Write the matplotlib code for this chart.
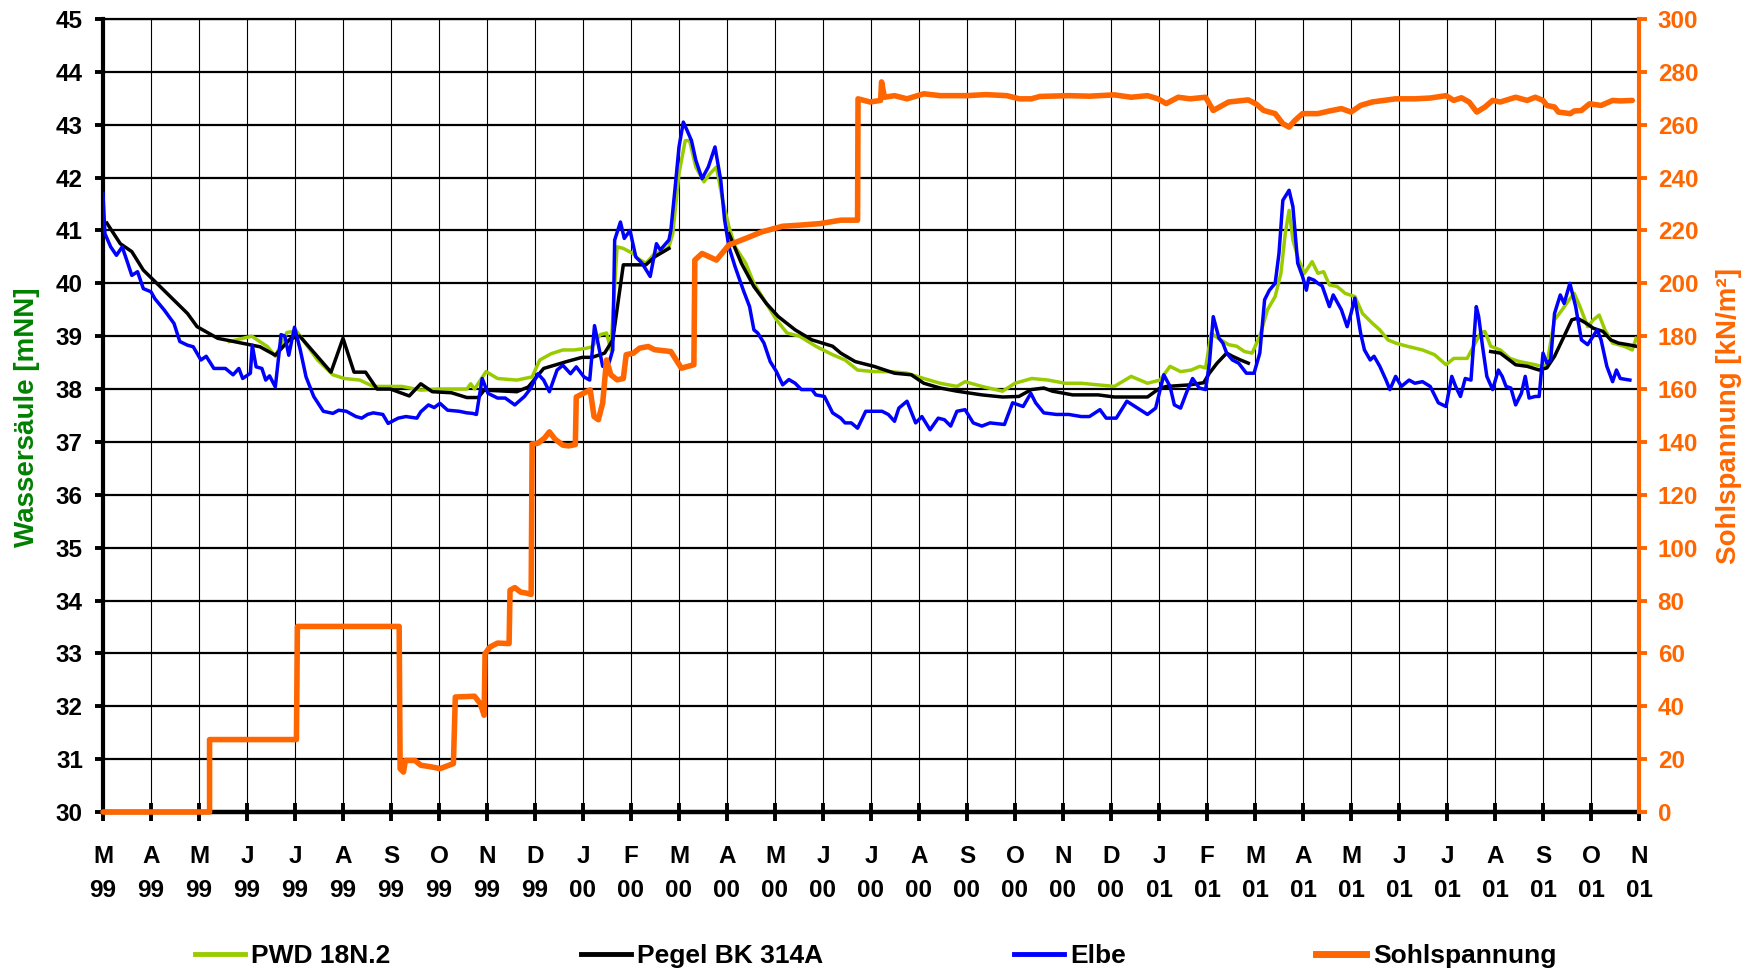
import matplotlib
matplotlib.use("Agg")
import matplotlib.pyplot as plt
import numpy as np
from matplotlib.lines import Line2D

plt.rcParams['font.family'] = ['Liberation Sans', 'DejaVu Sans']
plt.rcParams['font.weight'] = 'bold'

# ---------------- data (x = months since 1 March 1999) ----------------
month_letters = ["M", "A", "M", "J", "J", "A", "S", "O", "N", "D",
                 "J", "F", "M", "A", "M", "J", "J", "A", "S", "O", "N", "D",
                 "J", "F", "M", "A", "M", "J", "J", "A", "S", "O", "N"]
year_labels = ["99"] * 10 + ["00"] * 12 + ["01"] * 11

pwd_x = [2.63, 3.10, 3.43, 3.59, 3.83, 4.03, 4.23, 4.47, 4.79, 5.03, 5.35, 5.63, 6.23, 6.62,
         7.02, 7.58, 7.66, 7.74, 7.98, 8.22, 8.62, 8.94, 9.10, 9.34, 9.58, 9.82, 10.06, 10.19,
         10.36, 10.49, 10.58, 10.71, 10.84, 11.05, 11.14, 11.31, 11.49, 11.66, 11.79, 11.87,
         12.00, 12.13, 12.22, 12.35, 12.52, 12.65, 12.78, 12.91, 13.04, 13.17, 13.39, 13.56,
         13.82, 14.03, 14.25, 14.51, 14.85, 15.20, 15.46, 15.72, 16.06, 16.41, 16.75, 17.10,
         17.44, 17.79, 17.96, 18.31, 18.74, 19.00, 19.35, 19.69, 20.04, 20.38, 20.73, 21.07,
         21.42, 21.76, 22.02, 22.23, 22.45, 22.67, 22.85, 22.97, 23.09, 23.17, 23.29, 23.45,
         23.62, 23.78, 23.94, 24.10, 24.26, 24.42, 24.54, 24.63, 24.71, 24.79, 24.91, 25.03,
         25.19, 25.31, 25.43, 25.55, 25.71, 25.88, 26.08, 26.24, 26.44, 26.60, 26.77, 26.93,
         27.17, 27.49, 27.74, 27.98, 28.14, 28.42, 28.70, 28.79, 28.91, 29.11, 29.31, 29.51,
         29.84, 29.96, 30.08, 30.24, 30.40, 30.52, 30.65, 30.77, 30.93, 31.05, 31.17, 31.29,
         31.45, 31.69, 31.86, 31.94]
pwd_y = [38.90, 39.00, 38.80, 38.62, 39.07, 39.10, 38.85, 38.55, 38.27, 38.20, 38.17, 38.05, 38.05, 37.98,
         38.00, 38.00, 38.10, 38.00, 38.33, 38.20, 38.17, 38.23, 38.55, 38.67, 38.74, 38.74, 38.77, 38.80,
         39.03, 39.06, 38.74, 40.69, 40.66, 40.56, 40.47, 40.38, 40.56, 40.60, 40.69, 40.94,
         42.08, 42.70, 42.70, 42.20, 41.92, 42.08, 42.20, 41.57, 41.07, 40.69, 40.38, 40.00,
         39.62, 39.31, 39.06, 39.00, 38.81, 38.65, 38.55, 38.36, 38.33, 38.33, 38.30, 38.20,
         38.11, 38.05, 38.14, 38.05, 37.96, 38.11, 38.20, 38.17, 38.11, 38.11, 38.08, 38.05,
         38.24, 38.11, 38.17, 38.43, 38.33, 38.36, 38.43, 38.40, 39.06, 39.00, 38.93, 38.84,
         38.81, 38.71, 38.68, 39.00, 39.50, 39.75, 40.19, 40.94, 41.38, 40.82, 40.44, 40.19,
         40.41, 40.19, 40.22, 39.97, 39.94, 39.81, 39.75, 39.43, 39.25, 39.12, 38.93, 38.87,
         38.81, 38.74, 38.65, 38.46, 38.58, 38.58, 39.06, 39.09, 38.81, 38.74, 38.58, 38.52,
         38.46, 38.43, 38.46, 39.31, 39.50, 39.66, 39.81, 39.56, 39.18, 39.31, 39.40, 39.12,
         38.87, 38.81, 38.74, 38.96]

pegel_x = [0.08, 0.36, 0.60, 0.84, 1.20, 1.76, 1.96, 2.39, 3.27, 3.59, 3.90, 4.10, 4.75, 5.00,
           5.23, 5.47, 5.71, 5.99, 6.38, 6.62, 6.86, 7.26, 7.58, 7.82, 7.94, 8.62, 8.86, 9.18,
           9.66, 9.98, 10.19, 10.45, 10.62, 10.84, 11.31, 11.49, 11.79, 11.80,
           13.04, 13.30, 13.56, 13.82, 14.07, 14.42, 14.77, 15.20, 15.37, 15.67, 16.06, 16.49,
           16.84, 17.10, 17.44, 17.79, 18.31, 18.74, 19.08, 19.34, 19.60, 19.78, 20.20, 20.73,
           21.07, 21.76, 22.02, 22.16, 22.65, 22.93, 23.05, 23.21, 23.41, 23.53, 23.70, 23.86,
           23.87, 28.91, 29.11, 29.43, 29.67, 29.92, 30.08, 30.24, 30.44, 30.60, 30.72, 30.89,
           31.05, 31.25, 31.41, 31.57, 31.77, 31.94]
pegel_y = [41.14, 40.75, 40.60, 40.25, 39.93, 39.43, 39.18, 38.96, 38.80, 38.64, 38.95, 39.00, 38.32, 38.96,
           38.32, 38.32, 38.00, 38.00, 37.87, 38.10, 37.95, 37.93, 37.84, 37.84, 37.98, 37.95, 38.04, 38.39,
           38.52, 38.60, 38.60, 38.68, 38.93, 40.35, 40.35, 40.50, 40.66, np.nan,
           40.94, 40.38, 39.94, 39.62, 39.37, 39.12, 38.93, 38.81, 38.68, 38.52, 38.43, 38.30,
           38.27, 38.11, 38.02, 37.96, 37.89, 37.85, 37.86, 37.99, 38.02, 37.96, 37.89, 37.89,
           37.85, 37.85, 38.02, 38.05, 38.08, 38.12, 38.30, 38.49, 38.68, 38.62, 38.55, 38.49,
           np.nan, 38.71, 38.68, 38.46, 38.43, 38.36, 38.40, 38.62, 39.00, 39.31, 39.34, 39.25,
           39.15, 39.09, 38.93, 38.87, 38.84, 38.81]

elbe_x = [0.00, 0.04, 0.16, 0.28, 0.40, 0.52, 0.60, 0.72, 0.84, 1.00, 1.08, 1.28, 1.48, 1.60,
          1.76, 1.88, 2.04, 2.15, 2.31, 2.55, 2.71, 2.83, 2.91, 3.07, 3.11, 3.19, 3.31, 3.39,
          3.47, 3.59, 3.71, 3.79, 3.87, 3.99, 4.11, 4.23, 4.39, 4.59, 4.79, 4.91, 5.07, 5.27,
          5.39, 5.51, 5.63, 5.83, 5.94, 6.15, 6.31, 6.54, 6.62, 6.78, 6.90, 7.02, 7.18, 7.42,
          7.58, 7.70, 7.78, 7.90, 8.02, 8.22, 8.38, 8.58, 8.78, 8.90, 9.06, 9.18, 9.30, 9.46,
          9.58, 9.74, 9.86, 10.02, 10.14, 10.24, 10.34, 10.41, 10.54, 10.62, 10.66, 10.78,
          10.86, 10.98, 11.10, 11.23, 11.40, 11.53, 11.61, 11.79, 11.83, 11.92, 12.00, 12.09,
          12.17, 12.26, 12.35, 12.48, 12.61, 12.75, 12.87, 12.95, 13.04, 13.17, 13.34, 13.47,
          13.56, 13.64, 13.77, 13.90, 14.03, 14.16, 14.29, 14.42, 14.55, 14.77, 14.85, 15.03,
          15.20, 15.37, 15.46, 15.59, 15.72, 15.89, 16.06, 16.23, 16.36, 16.49, 16.58, 16.75,
          16.93, 17.06, 17.23, 17.40, 17.53, 17.66, 17.79, 17.96, 18.13, 18.31, 18.48, 18.78,
          18.95, 19.17, 19.33, 19.43, 19.60, 19.86, 20.12, 20.38, 20.55, 20.77, 20.90, 21.11,
          21.33, 21.76, 21.93, 22.10, 22.23, 22.32, 22.45, 22.58, 22.70, 22.84, 22.97, 23.05,
          23.13, 23.25, 23.33, 23.41, 23.53, 23.66, 23.82, 23.98, 24.10, 24.20, 24.30, 24.42,
          24.50, 24.58, 24.71, 24.79, 24.89, 24.99, 25.07, 25.12, 25.23, 25.31, 25.40, 25.55,
          25.63, 25.80, 25.92, 26.00, 26.08, 26.20, 26.28, 26.40, 26.48, 26.60, 26.73, 26.81,
          26.93, 27.05, 27.21, 27.33, 27.49, 27.65, 27.82, 27.98, 28.10, 28.18, 28.28, 28.38,
          28.50, 28.61, 28.66, 28.74, 28.83, 28.95, 29.07, 29.15, 29.23, 29.33, 29.43, 29.55,
          29.63, 29.71, 29.84, 29.92, 30.00, 30.08, 30.16, 30.24, 30.36, 30.44, 30.56, 30.68,
          30.80, 30.93, 31.13, 31.21, 31.33, 31.45, 31.53, 31.61, 31.81]
elbe_y = [41.70, 40.94, 40.69, 40.53, 40.69, 40.37, 40.15, 40.22, 39.90, 39.84, 39.71, 39.49, 39.24, 38.90,
          38.83, 38.80, 38.55, 38.62, 38.39, 38.39, 38.27, 38.39, 38.20, 38.30, 38.83, 38.42, 38.39, 38.17,
          38.25, 38.04, 39.03, 39.00, 38.64, 39.17, 38.74, 38.23, 37.86, 37.58, 37.54, 37.60, 37.58, 37.48,
          37.45, 37.52, 37.55, 37.52, 37.35, 37.45, 37.48, 37.45, 37.57, 37.70, 37.65, 37.73, 37.60, 37.58,
          37.55, 37.54, 37.52, 38.20, 37.92, 37.83, 37.83, 37.70, 37.86, 38.00, 38.29, 38.17, 37.95, 38.36,
          38.45, 38.29, 38.42, 38.23, 38.17, 39.20, 38.75, 38.43, 38.49, 38.74, 40.82, 41.16,
          40.85, 41.00, 40.50, 40.38, 40.13, 40.75, 40.63, 40.82, 41.00, 41.82, 42.58, 43.05,
          42.89, 42.70, 42.33, 41.98, 42.20, 42.58, 41.95, 41.20, 40.69, 40.31, 39.87, 39.56,
          39.12, 39.06, 38.87, 38.52, 38.33, 38.08, 38.18, 38.11, 37.99, 37.99, 37.89, 37.86,
          37.55, 37.45, 37.36, 37.36, 37.26, 37.58, 37.58, 37.58, 37.52, 37.39, 37.64, 37.77,
          37.36, 37.48, 37.23, 37.45, 37.42, 37.30, 37.58, 37.61, 37.36, 37.30, 37.36, 37.33,
          37.74, 37.67, 37.92, 37.74, 37.55, 37.52, 37.52, 37.48, 37.48, 37.61, 37.45, 37.45,
          37.77, 37.52, 37.64, 38.27, 38.05, 37.70, 37.64, 37.95, 38.20, 38.02, 37.99, 38.49,
          39.37, 38.96, 38.87, 38.68, 38.55, 38.49, 38.30, 38.30, 38.68, 39.69, 39.87, 40.00,
          40.57, 41.57, 41.76, 41.45, 40.38, 40.13, 39.87, 40.10, 40.06, 40.00, 39.95, 39.56,
          39.78, 39.50, 39.18, 39.43, 39.72, 39.06, 38.74, 38.55, 38.62, 38.43, 38.17, 37.99,
          38.24, 38.05, 38.17, 38.11, 38.14, 38.05, 37.74, 37.67, 38.24, 38.05, 37.86, 38.20,
          38.17, 39.56, 39.37, 38.81, 38.24, 37.99, 38.36, 38.24, 38.05, 38.02, 37.70, 37.92,
          38.24, 37.83, 37.86, 37.86, 38.68, 38.49, 38.55, 39.43, 39.78, 39.62, 40.00, 39.56,
          38.93, 38.84, 39.12, 38.93, 38.43, 38.14, 38.36, 38.20, 38.17]

sohl_x = [0.00, 2.22, 2.22, 4.03, 4.05, 6.17, 6.19, 6.26, 6.30, 6.50, 6.62, 6.86, 7.02, 7.18,
          7.30, 7.34, 7.74, 7.86, 7.94, 7.96, 8.06, 8.22, 8.46, 8.48, 8.58, 8.70, 8.82, 8.92,
          8.94, 9.06, 9.20, 9.30, 9.42, 9.58, 9.70, 9.84, 9.86, 10.02, 10.15, 10.23, 10.32,
          10.41, 10.49, 10.58, 10.71, 10.84, 10.90, 11.05, 11.18, 11.36, 11.49, 11.83, 12.05,
          12.31, 12.33, 12.48, 12.78, 13.04, 13.39, 13.73, 14.16, 14.51, 14.94, 15.37, 15.72,
          15.73, 15.98, 16.20, 16.22, 16.28, 16.49, 16.75, 17.10, 17.44, 18.00, 18.39, 18.83,
          19.09, 19.34, 19.52, 20.12, 20.55, 21.07, 21.42, 21.76, 21.98, 22.15, 22.40, 22.65,
          22.97, 23.13, 23.45, 23.86, 24.02, 24.18, 24.42, 24.58, 24.71, 24.83, 24.99, 25.31,
          25.55, 25.80, 26.00, 26.20, 26.44, 26.68, 26.93, 27.33, 27.65, 27.98, 28.14, 28.30,
          28.46, 28.62, 28.79, 28.95, 29.11, 29.43, 29.67, 29.84, 30.00, 30.08, 30.24, 30.32,
          30.57, 30.65, 30.80, 30.97, 31.21, 31.45, 31.61, 31.86]
sohl_y = [0.0, 0.0, 27.4, 27.4, 70.2, 70.2, 16.4, 15.1, 19.5, 19.5, 17.7, 17.0, 16.4, 17.5,
          18.3, 43.5, 43.8, 41.0, 36.6, 59.9, 62.4, 63.9, 63.7, 83.9, 84.9, 83.2, 82.8, 82.3,
          139.2, 139.5, 141.5, 143.8, 141.0, 138.8, 138.5, 139.0, 157.0, 158.5, 159.7, 149.6, 148.4,
          154.7, 171.0, 165.4, 163.5, 164.0, 173.0, 173.6, 175.5, 176.1, 174.9, 174.2, 167.9,
          169.2, 208.8, 211.3, 208.8, 214.5, 217.0, 219.5, 221.6, 222.0, 222.6, 223.9, 223.9,
          269.8, 268.6, 269.2, 276.2, 270.4, 271.0, 269.8, 271.7, 271.0, 271.0, 271.4, 271.0,
          269.8, 269.8, 270.7, 271.0, 270.8, 271.3, 270.4, 271.0, 269.8, 268.0, 270.4, 269.8,
          270.4, 265.4, 268.6, 269.4, 267.9, 265.4, 264.2, 260.4, 259.1, 261.6, 264.2, 264.2,
          265.2, 266.1, 264.8, 267.3, 268.6, 269.2, 269.8, 269.8, 270.1, 271.0, 269.2, 270.2,
          268.6, 264.8, 266.7, 269.2, 268.6, 270.4, 269.2, 270.4, 269.2, 267.3, 266.7, 264.8,
          264.2, 265.2, 265.4, 267.9, 267.3, 269.2, 269.0, 269.2]

series_labels = ["PWD 18N.2", "Pegel BK 314A", "Elbe", "Sohlspannung"]
left_label = "Wassersäule [mNN]"
right_label = "Sohlspannung [kN/m²]"

# ---------------- styling ----------------
C_PWD = "#99CC00"
C_PEGEL = "#000000"
C_ELBE = "#0000FF"
C_SOHL = "#FF6600"
C_LGREEN = "#008000"
FS = 17.5
FS_LAB = 20
FS_LEG = 19

W, H = 1758, 973
fig = plt.figure(figsize=(W / 100, H / 100), dpi=100)
L, R, T, B = 103, 1639, 19, 812
ax = fig.add_axes([L / W, 1 - B / H, (R - L) / W, (B - T) / H])
ax2 = ax.twinx()

ax.plot(pwd_x, pwd_y, color=C_PWD, lw=2.5, zorder=3, solid_joinstyle='round')
ax.plot(pegel_x, pegel_y, color=C_PEGEL, lw=2.5, zorder=4, solid_joinstyle='round')
ax.plot(elbe_x, elbe_y, color=C_ELBE, lw=2.5, zorder=5, solid_joinstyle='round')
ax2.plot(sohl_x, sohl_y, color=C_SOHL, lw=4.0, zorder=6, solid_joinstyle='round',
         solid_capstyle='round', clip_on=False)

ax.set_xlim(0, 32)
ax.set_ylim(30, 45)
ax2.set_ylim(0, 300)

ax.set_xticks(range(len(month_letters)))
ax.set_xticklabels([f"{m}\n{y}" for m, y in zip(month_letters, year_labels)],
                   fontsize=FS, fontweight='bold', linespacing=1.64)
ax.set_yticks(range(30, 46))
ax.set_yticklabels([str(v) for v in range(30, 46)], fontsize=FS, fontweight='bold')
ax2.set_yticks(range(0, 301, 20))
ax2.set_yticklabels([str(v) for v in range(0, 301, 20)], fontsize=FS, fontweight='bold',
                    color=C_SOHL)

ax.grid(axis='y', color='black', lw=1.6, zorder=1)
ax.grid(axis='x', color='black', lw=0.8, zorder=1)
ax.set_axisbelow(True)

ax.tick_params(axis='y', direction='out', length=6, width=2.8, pad=8.5, color='black')
ax.tick_params(axis='x', direction='inout', length=13, width=2.8, pad=17, color='black')
ax2.tick_params(axis='y', direction='out', length=6, width=2.8, pad=7.5, color=C_SOHL)

ax.spines['right'].set_visible(False)
ax.spines['top'].set_linewidth(1.6)
ax.spines['left'].set_linewidth(3)
ax.spines['bottom'].set_linewidth(3.2)
for s in ['left', 'top', 'bottom']:
    ax2.spines[s].set_visible(False)
ax2.spines['right'].set_color(C_SOHL)
ax2.spines['right'].set_linewidth(3)

fig.text(27 / W, 1 - 417 / H, left_label, rotation=90, ha='center', va='center',
         fontsize=FS_LAB, fontweight='bold', color=C_LGREEN)
fig.text(1729 / W, 1 - 416 / H, right_label, rotation=90, ha='center', va='center',
         fontsize=FS_LAB, fontweight='bold', color=C_SOHL)

handles = [Line2D([], [], color=C_PWD, lw=3.5),
           Line2D([], [], color=C_PEGEL, lw=3.5),
           Line2D([], [], color=C_ELBE, lw=3.5),
           Line2D([], [], color=C_SOHL, lw=5)]
leg = fig.legend(handles, series_labels, loc='center', bbox_to_anchor=(0.498, 1 - 956 / H),
                 ncol=4, frameon=False, handlelength=1.9, handletextpad=0.25,
                 columnspacing=7.2, prop={'size': FS_LEG, 'weight': 'bold'})

fig.savefig("out.png", dpi=100, facecolor='white')
